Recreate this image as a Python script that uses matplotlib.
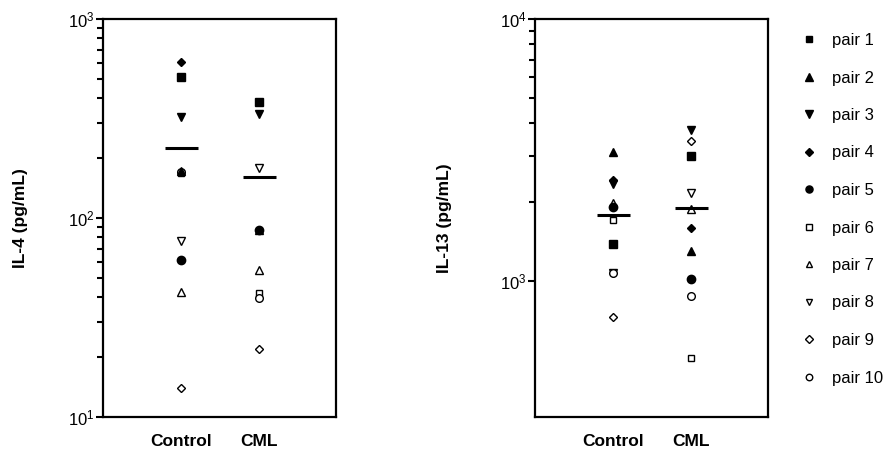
import matplotlib
matplotlib.use("Agg")
import matplotlib.pyplot as plt
from matplotlib.lines import Line2D
from matplotlib.ticker import LogLocator, NullFormatter, FixedLocator

plt.rcParams['font.family'] = ['Liberation Sans', 'DejaVu Sans']
plt.rcParams['mathtext.fontset'] = 'custom'
plt.rcParams['mathtext.rm'] = 'Liberation Sans'

groups = ["Control", "CML"]
pairs = ["pair 1", "pair 2", "pair 3", "pair 4", "pair 5",
         "pair 6", "pair 7", "pair 8", "pair 9", "pair 10"]

# IL-4 (pg/mL), per pair
il4_control = [514, 172, 323, 611, 61.5, 168, 42.5, 77, 14, 170]
il4_cml = [384, 87, 333, 384, 87, 42, 55, 178, 22, 39.5]
il4_means = [225, 160]

# IL-13 (pg/mL), per pair
il13_control = [1384, 3116, 2344, 2428, 1922, 1709, 1980, 1070, 729, 1070]
il13_cml = [3000, 1302, 3770, 1589, 1015, 510, 1880, 2173, 3432, 877]
il13_means = [1786, 1894]

markers = ['s', '^', 'v', 'D', 'o', 's', '^', 'v', 'D', 'o']
filled = [True] * 5 + [False] * 5
msizes = [5.5, 6, 6, 4.5, 6, 5, 5.5, 5.5, 4.5, 5.5]

fig = plt.figure(figsize=(8.93, 4.57), dpi=100)
W, H = 893, 457
ax1 = fig.add_axes([103 / W, (H - 417) / H, 233 / W, 398 / H])
ax2 = fig.add_axes([535 / W, (H - 417) / H, 233 / W, 398 / H])


def draw(ax, ctrl, cml, means, ylim, ylabel, labx):
    for i in range(len(pairs)):
        fc = 'black' if filled[i] else 'white'
        for gx, vals in enumerate([ctrl, cml]):
            ax.plot([gx], [vals[i]], linestyle='none', marker=markers[i],
                    markersize=msizes[i], markerfacecolor=fc,
                    markeredgecolor='black', markeredgewidth=1.0,
                    zorder=3 + (1 if filled[i] else 0))
    for gx, m in enumerate(means):
        ax.plot([gx - 0.21, gx + 0.21], [m, m], color='black', lw=2.2,
                solid_capstyle='butt', zorder=5)
    ax.set_yscale('log')
    ax.set_ylim(*ylim)
    ax.set_xlim(-1.0, 1.98)
    ax.set_xticks([0, 1])
    ax.set_xticklabels(groups, fontsize=12.5, fontweight='bold')
    ax.tick_params(axis='x', length=0, pad=12)
    ax.tick_params(axis='y', which='major', length=5, width=1.5,
                   labelsize=12, pad=1)
    ax.tick_params(axis='y', which='minor', length=4, width=1.5)
    for s in ax.spines.values():
        s.set_linewidth(1.6)
    ax.set_ylabel(ylabel, fontsize=12.5, fontweight='bold')
    ax.yaxis.set_label_coords(labx, 0.5)


draw(ax1, il4_control, il4_cml, il4_means, (10, 1000), "IL-4 (pg/mL)", -0.32)
ax1.yaxis.set_major_locator(LogLocator(base=10, numticks=10))
ax1.yaxis.set_minor_locator(LogLocator(base=10, subs=range(2, 10), numticks=20))
ax1.yaxis.set_minor_formatter(NullFormatter())

draw(ax2, il13_control, il13_cml, il13_means, (303, 10000), "IL-13 (pg/mL)", -0.355)
ax2.yaxis.set_major_locator(FixedLocator([1000, 10000]))
ax2.yaxis.set_minor_locator(FixedLocator([2000, 3000, 4000, 5000, 6000, 7000, 8000, 9000]))
ax2.yaxis.set_minor_formatter(NullFormatter())

handles = []
for i in range(len(pairs)):
    fc = 'black' if filled[i] else 'white'
    handles.append(Line2D([], [], linestyle='none', marker=markers[i],
                          markersize=msizes[i] * 0.85, markerfacecolor=fc,
                          markeredgecolor='black', markeredgewidth=1.0))
fig.legend(handles, pairs, loc='upper left', bbox_to_anchor=(801 / W, 1 - 33 / H),
           frameon=False, fontsize=12, labelspacing=1.35, handlelength=1.0,
           handletextpad=0.85, borderaxespad=0, borderpad=0)

fig.savefig("out.png", dpi=100)
